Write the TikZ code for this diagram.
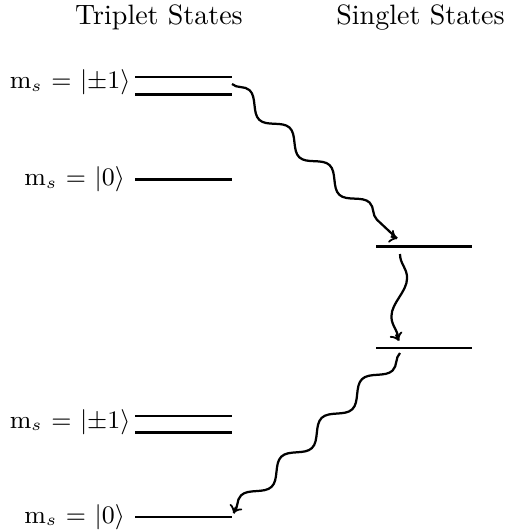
\documentclass[tikz,border=0pt]{standalone}
\usetikzlibrary{decorations.pathmorphing}
\begin{document}
\begin{tikzpicture}[x=0.357pt,y=-0.357pt,
  level/.style={thick},
  lbl/.style={anchor=base east,inner sep=0pt,font=\small},
  ttl/.style={anchor=base,inner sep=0pt},
  wave/.style={thick,decorate,decoration={snake,amplitude=2.68pt,segment length=#1}},
  tipseg/.style={thick,->}]
\useasboundingbox (0,0) rectangle (518,532);
% titles
\node[ttl] (tt) at (159,25) {Triplet States};
\node[ttl] (st) at (420.5,25) {Singlet States};
% level end points
\coordinate (a1) at (135,77);  \coordinate (a2) at (232,77);
\coordinate (b1) at (135,94.5);  \coordinate (b2) at (232,94.5);
\coordinate (c1) at (135,179.5); \coordinate (c2) at (232,179.5);
\coordinate (d1) at (376,246.5); \coordinate (d2) at (472,246.5);
\coordinate (e1) at (376,348.3); \coordinate (e2) at (472,348.3);
\coordinate (f1) at (135,416); \coordinate (f2) at (232,416);
\coordinate (g1) at (135,432.5); \coordinate (g2) at (232,432.5);
\coordinate (h1) at (135,516.7); \coordinate (h2) at (232,516.7);
\draw[level] (a1) -- (a2);
\draw[level] (b1) -- (b2);
\draw[level] (c1) -- (c2);
\draw[level] (d1) -- (d2);
\draw[level] (e1) -- (e2);
\draw[level] (f1) -- (f2);
\draw[level] (g1) -- (g2);
\draw[level] (h1) -- (h2);
% labels
\node[lbl] (la) at (131,89) {m$_s$ = $|{\pm1}\rangle$};
\node[lbl] (lc) at (125.5,186) {m$_s$ = $|0\rangle$};
\node[lbl] (lf) at (131,428) {m$_s$ = $|{\pm1}\rangle$};
\node[lbl] (lh) at (125.5,523) {m$_s$ = $|0\rangle$};
% wave end points
\coordinate (w1s) at (232,84);  \coordinate (w1e) at (397,238.5);
\coordinate (w2s) at (400,254); \coordinate (w2e) at (398.5,340.5);
\coordinate (w3s) at (400,353); \coordinate (w3e) at (233.5,513);
% arrow tip start points
\coordinate (w1t) at (390.84,236.3);
\coordinate (w2t) at (396.0,334.45);
\coordinate (w3t) at (236.03,506.97);
\draw[wave=19.55pt] (w1s) -- (w1e);
\draw[wave=27.43pt] (w2s) -- (w2e);
\draw[wave=19.97pt] (w3s) -- (w3e);
\draw[tipseg] (w1t) -- (w1e);
\draw[tipseg] (w2t) -- (w2e);
\draw[tipseg] (w3t) -- (w3e);
\end{tikzpicture}
\end{document}
